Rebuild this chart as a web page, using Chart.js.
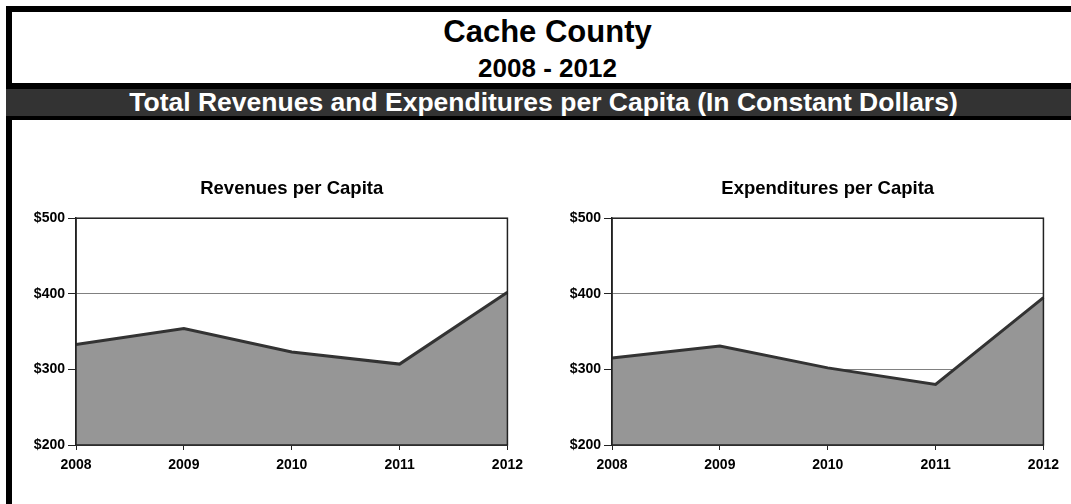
<!DOCTYPE html>
<html>
<head>
<meta charset="utf-8">
<script src="https://cdn.jsdelivr.net/npm/chart.js@4"></script>
<style>
    html, body { margin: 0; padding: 0; background: #fff; }
    body { width: 1071px; height: 504px; position: relative; overflow: hidden; font-family: "Liberation Sans", Arial, sans-serif; }
    .border-left { position: absolute; left: 6px; top: 6px; width: 6px; height: 498px; background: #000; }
    .border-top { position: absolute; left: 6px; top: 6px; width: 1065px; height: 6px; background: #000; }
    .band { position: absolute; left: 6px; top: 83px; width: 1065px; height: 27px; background: #333; border-top: 6px solid #000; border-bottom: 4px solid #000; }
    .title { position: absolute; left: 24px; width: 1047px; text-align: center; font-weight: bold; color: #000; white-space: nowrap; }
    .band-text { position: absolute; left: 16px; width: 1055px; top: 89px; height: 27px; line-height: 27px; text-align: center; font-weight: bold; font-size: 26.5px; color: #fff; white-space: nowrap; }
    .box { position: absolute; top: 176px; height: 299px; }
</style>
</head>
<body>
<div class="border-top"></div>
<div class="border-left"></div>
<div class="title" style="top:14px;font-size:31px;line-height:36px;">Cache County</div>
<div class="title" style="top:53px;font-size:26px;line-height:30px;">2008 - 2012</div>
<div class="band"></div>
<div class="band-text">Total Revenues and Expenditures per Capita (In Constant Dollars)</div>

<div class="box" style="left:16px;width:514px;"><canvas id="chartRev"></canvas></div>
<div class="box" style="left:552px;width:514px;"><canvas id="chartExp"></canvas></div>

<script>
// годы и значения (на душу населения, в постоянных долларах)
const years = ['2008', '2009', '2010', '2011', '2012'];
const revenues = [333, 354, 323, 307, 402];
const expenditures = [315, 331, 302, 280, 395];
const yTicks = [200, 300, 400, 500];

// рамка вокруг области графика
const frame = {
    id: 'frame',
    afterDatasetsDraw(chart) {
        const a = chart.chartArea;
        const ctx = chart.ctx;
        ctx.save();
        ctx.strokeStyle = '#222';
        ctx.lineWidth = 1.5;
        ctx.strokeRect(a.left, a.top, a.right - a.left, a.bottom - a.top);
        ctx.restore();
    }
};

const tickFont = { family: 'Liberation Sans', size: 14, weight: 'bold' };

function buildChart(id, title, values) {
    const ctx = document.getElementById(id).getContext('2d');
    return new Chart(ctx, {
        type: 'line',
        data: {
            labels: years,
            datasets: [{
                data: values,
                borderColor: '#333333',
                borderWidth: 3,
                backgroundColor: '#969696',
                fill: 'start',
                tension: 0,
                pointRadius: 0
            }]
        },
        options: {
            responsive: true,
            maintainAspectRatio: false,
            animation: false,
            layout: { padding: { right: 22, top: 0, bottom: 0, left: 0 } },
            plugins: {
                legend: { display: false },
                tooltip: { enabled: false },
                title: {
                    display: true,
                    text: title,
                    fullSize: false,
                    color: '#000',
                    font: { family: 'Liberation Sans', size: 18.5, weight: 'bold' },
                    padding: { top: 2, bottom: 18 }
                }
            },
            scales: {
                x: {
                    offset: false,
                    grid: { drawOnChartArea: false, drawTicks: true, tickLength: 5, color: '#222', tickColor: '#222' },
                    border: { color: '#222', width: 1.5 },
                    ticks: { color: '#000', padding: 7, maxRotation: 0, font: tickFont },
                    afterFit(scale) { scale.height = 30; }
                },
                y: {
                    min: 200,
                    max: 500,
                    afterBuildTicks(scale) { scale.ticks = yTicks.map(v => ({ value: v })); },
                    grid: { color: '#808080', lineWidth: 1, drawTicks: true, tickLength: 8, tickColor: '#222' },
                    border: { color: '#222', width: 1.5 },
                    ticks: { color: '#000', padding: 3, font: tickFont, callback: v => '$' + v },
                    afterFit(scale) { scale.width = 60; }
                }
            }
        },
        plugins: [frame]
    });
}

buildChart('chartRev', 'Revenues per Capita', revenues);
buildChart('chartExp', 'Expenditures per Capita', expenditures);
</script>
</body>
</html>
